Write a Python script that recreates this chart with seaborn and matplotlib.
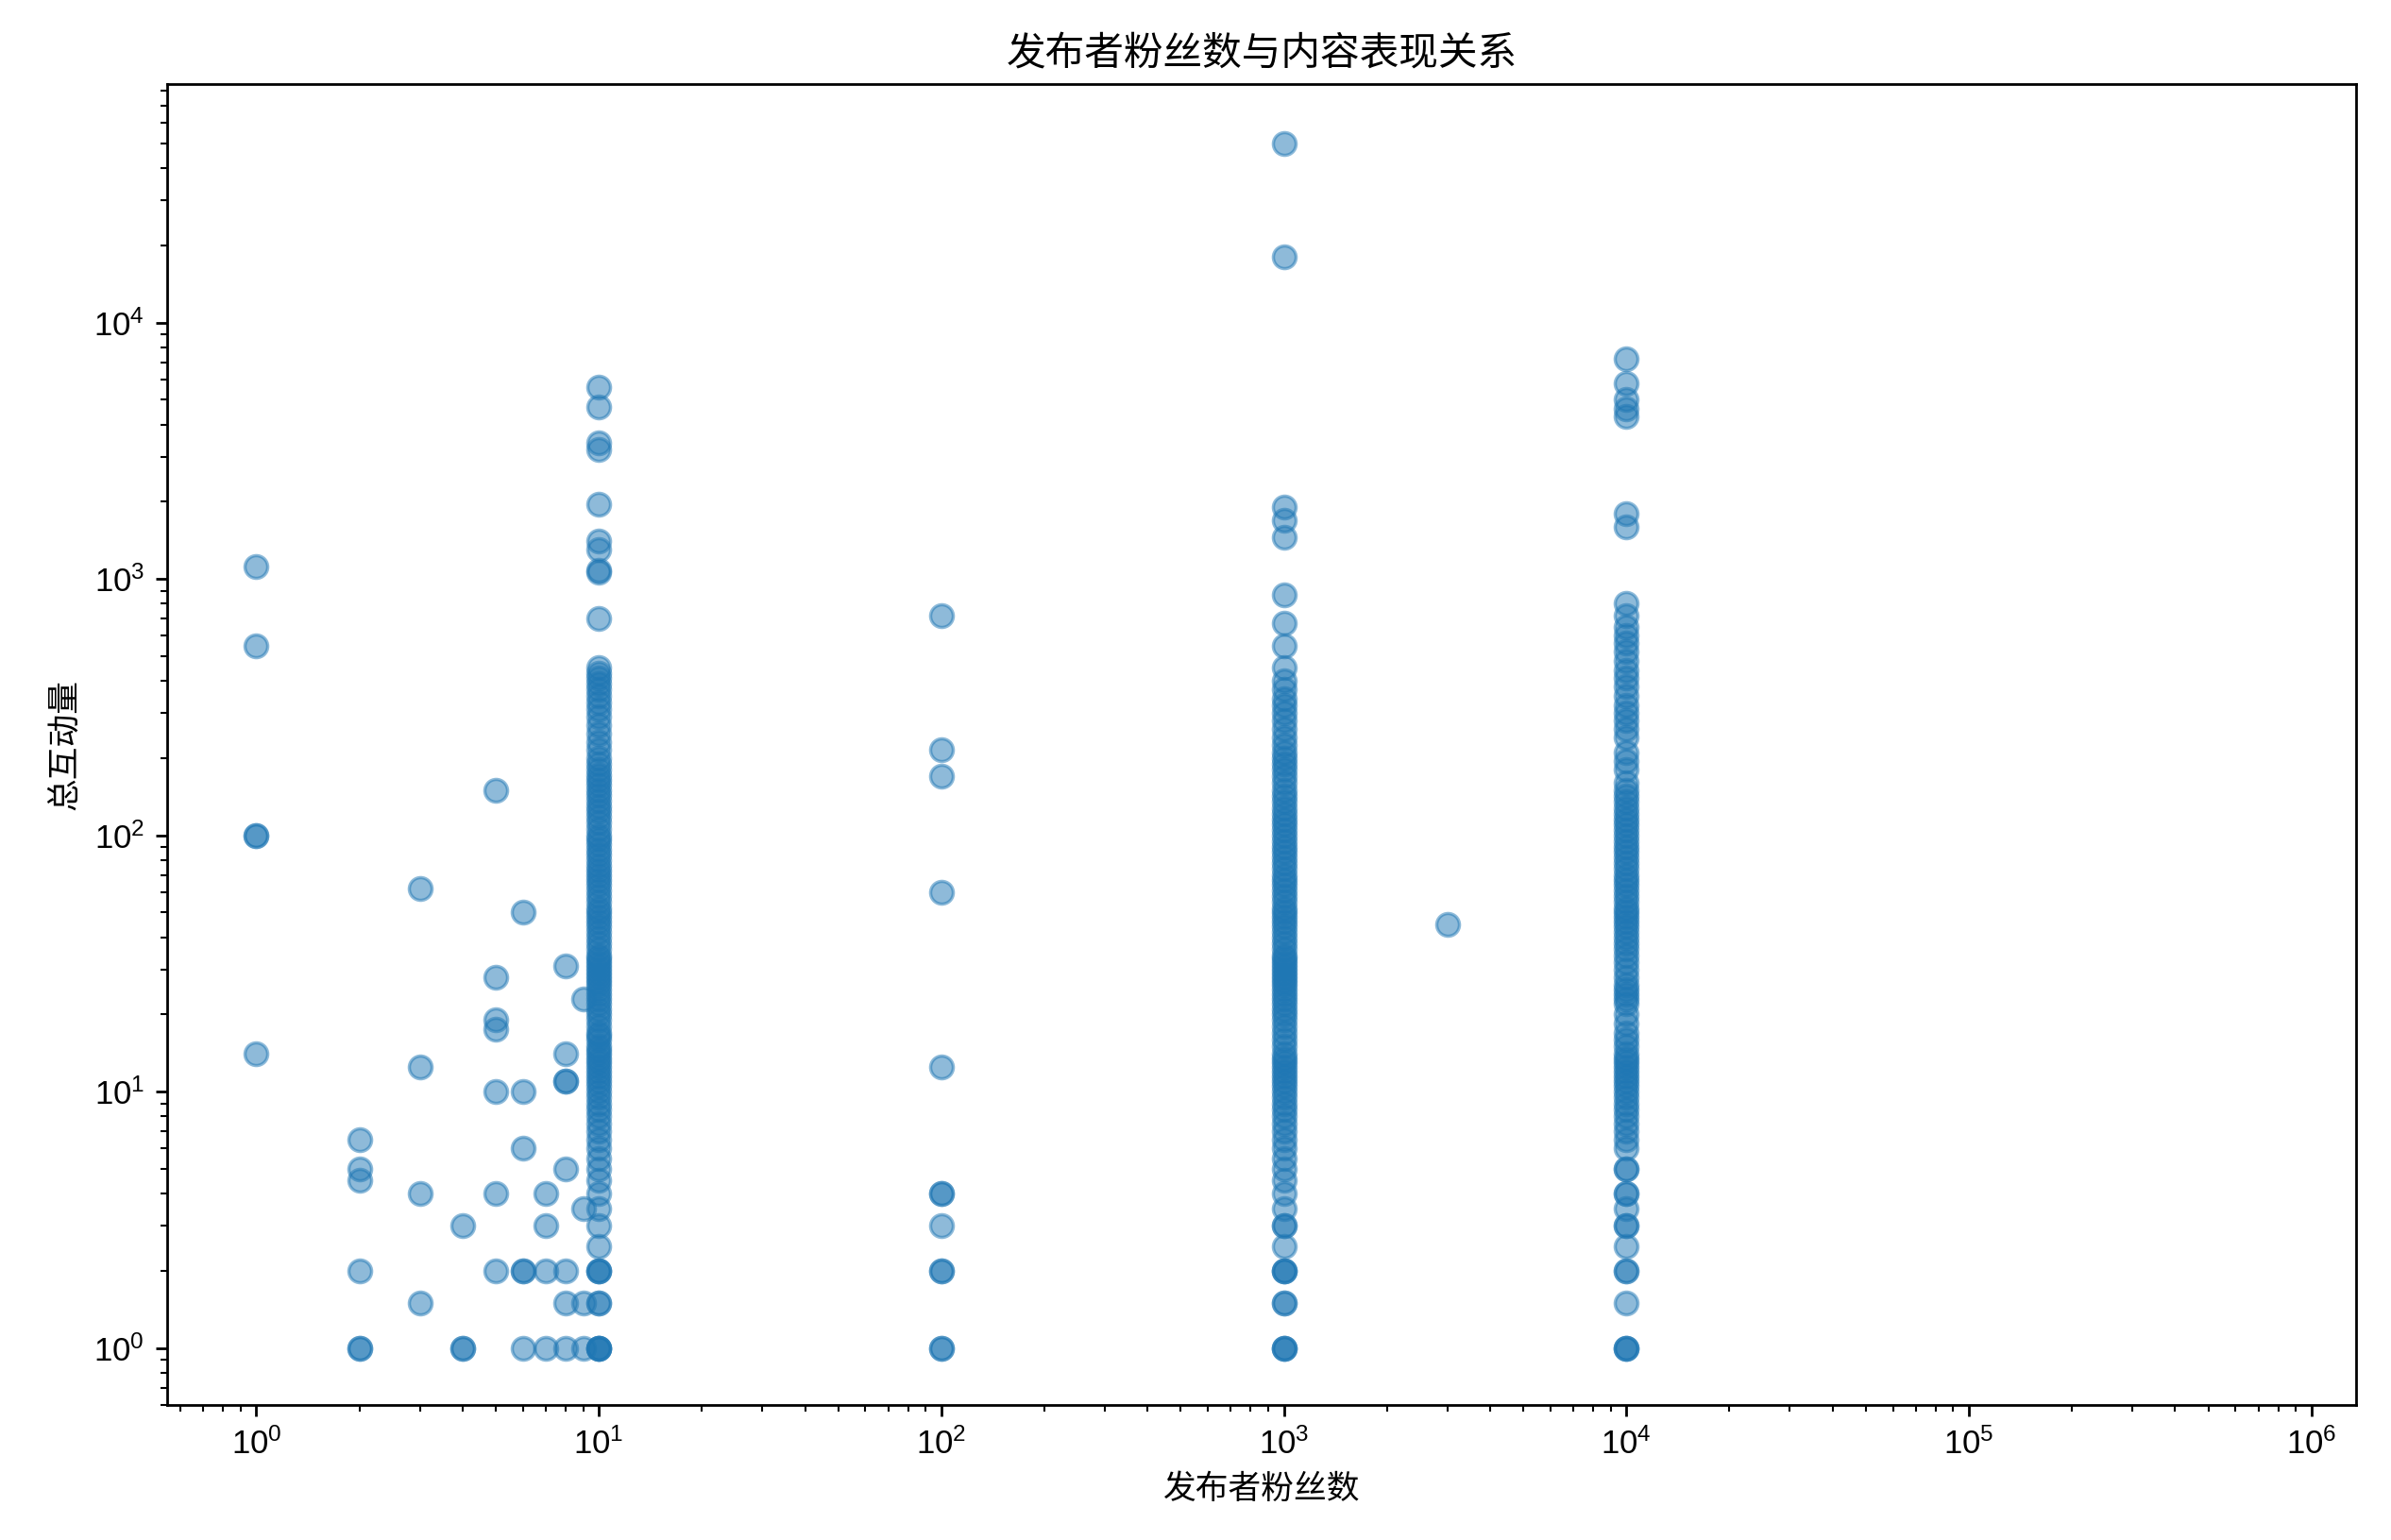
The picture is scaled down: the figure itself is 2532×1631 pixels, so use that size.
import matplotlib
matplotlib.use("Agg")
import matplotlib.pyplot as plt
import seaborn as sns
import pandas as pd

sns.set_style("ticks")
plt.rcParams['font.family'] = ['Liberation Sans', 'Noto Sans CJK SC', 'DejaVu Sans']
plt.rcParams['axes.unicode_minus'] = False
for k in ['text.color', 'axes.labelcolor', 'xtick.color', 'ytick.color', 'axes.edgecolor']:
    plt.rcParams[k] = 'black'

followers_1 = [1, 1, 1, 1, 1]
inter_1 = [1120, 550, 100, 100, 14]
followers_small = [2, 2, 2, 2, 2, 2, 3, 3, 3, 3, 4, 4, 4, 5, 5, 5, 5, 5, 5, 5, 6, 6, 6, 6, 6, 6, 7, 7, 7, 7, 8, 8, 8, 8, 8, 8, 8, 8, 9, 9, 9, 9]
inter_small = [6.5, 5, 4.5, 2, 1, 1, 62, 12.5, 4, 1.5, 3, 1, 1, 150, 28, 19, 17.5, 10, 4, 2, 50, 10, 6, 2, 2, 1, 4, 3, 2, 1, 31, 14, 11, 11, 5, 2, 1.5, 1, 23, 3.5, 1.5, 1]
inter_10 = [5600, 4700, 3400, 3200, 1950, 1400, 1300, 1080, 1060, 700, 450, 430, 410, 390, 370, 350, 330, 310, 290, 270, 250, 230, 215, 200, 190, 180, 172, 165, 158, 150, 143, 136, 130, 124, 118, 112, 106, 100, 96, 92, 88, 84, 80, 76, 73, 70, 67, 64, 61, 58, 55, 52, 50, 48, 46, 44, 42, 40, 38, 36, 34, 33, 32, 31, 30, 29, 28, 27, 26, 25, 24, 23, 22, 21, 20, 19, 18, 17, 16.5, 16, 15, 14.5, 14, 13.5, 13, 12.5, 12, 11.5, 11, 10.5, 10, 9.5, 9, 8.5, 8, 7.5, 7, 6.5, 6, 5.5, 5, 4.5, 4, 3.5, 3, 2.5, 2, 2, 2, 1.5, 1.5, 1, 1, 1, 1]
inter_100 = [720, 215, 170, 60, 12.5, 4, 4, 3, 2, 2, 1, 1]
inter_1000 = [50000, 18000, 1900, 1700, 1450, 870, 670, 550, 450, 400, 370, 340, 320, 300, 280, 260, 240, 225, 210, 200, 190, 180, 170, 160, 150, 142, 135, 128, 121, 115, 110, 105, 100, 95, 90, 86, 82, 78, 74, 70, 67, 64, 61, 58, 55, 52, 50, 48, 46, 44, 42, 40, 38, 36, 34, 33, 32, 31, 30, 29, 28, 27, 26, 25, 24, 23, 22, 21, 20, 19, 18, 17, 16, 15, 14, 13.5, 13, 12.5, 12, 11.5, 11, 10.5, 10, 9.5, 9, 8.5, 8, 7.5, 7, 6.5, 6, 5.5, 5, 4.5, 4, 3.5, 3, 3, 2.5, 2, 2, 2, 1.5, 1.5, 1, 1, 1]
followers_3000 = [3000]
inter_3000 = [45]
inter_10000 = [7200, 5800, 5000, 4600, 4300, 1800, 1600, 800, 720, 650, 600, 560, 520, 480, 440, 410, 380, 350, 320, 300, 280, 260, 240, 210, 195, 180, 160, 150, 142, 135, 128, 121, 115, 110, 105, 100, 95, 90, 86, 82, 78, 74, 70, 67, 64, 61, 58, 55, 52, 50, 48, 46, 44, 42, 40, 38, 36, 34, 32, 30, 28, 26, 25, 24, 23, 22, 20, 18.5, 17, 16, 15, 14, 13.5, 13, 12.5, 12, 11.5, 11, 10.5, 10, 9.5, 9, 8.5, 8, 7.5, 7, 6.5, 6, 5, 5, 4, 4, 3.5, 3, 3, 2.5, 2, 2, 1.5, 1, 1, 1]

xs = (followers_1 + followers_small + [10] * len(inter_10) + [100] * len(inter_100)
      + [1000] * len(inter_1000) + followers_3000 + [10000] * len(inter_10000))
ys = inter_1 + inter_small + inter_10 + inter_100 + inter_1000 + inter_3000 + inter_10000
df = pd.DataFrame({"粉丝数": xs, "互动量": ys})

fig, ax = plt.subplots(figsize=(10.13, 6.524), dpi=250)
sns.scatterplot(data=df, x="粉丝数", y="互动量", ax=ax, color="#1f77b4", alpha=0.5,
                s=48, edgecolor="#1f77b4", linewidth=1)
ax.set_xscale("log")
ax.set_yscale("log")
ax.set_xlim(0.55, 1.35e6)
ax.set_ylim(0.6, 8.5e4)
ax.set_title("发布者粉丝数与内容表现关系", fontsize=12)
ax.set_xlabel("发布者粉丝数", fontsize=10)
ax.set_ylabel("总互动量", fontsize=10)
ax.tick_params(labelsize=10)
fig.tight_layout()
fig.subplots_adjust(left=0.07)
fig.savefig("out.png", dpi=250)
